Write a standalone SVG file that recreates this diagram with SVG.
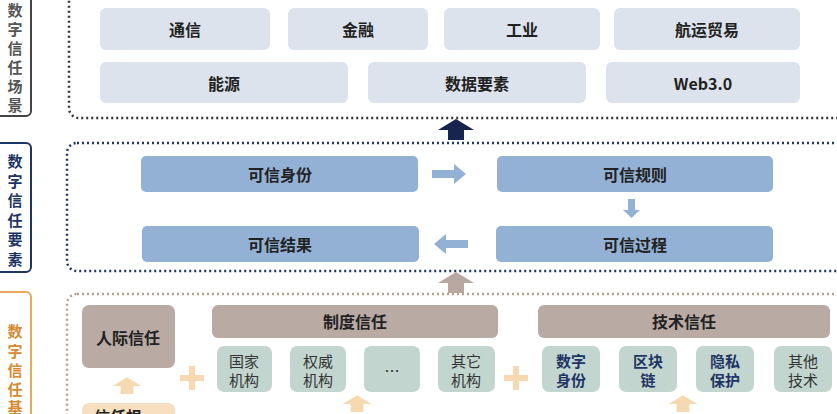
<svg xmlns="http://www.w3.org/2000/svg" width="837" height="414" viewBox="0 0 837 414">
<style>
text{font-family:"Noto Sans CJK SC","Liberation Sans",sans-serif;text-anchor:middle;dominant-baseline:central}
.b{font-weight:bold;font-size:16px;fill:#222}
.s{font-size:15px;fill:#333}
.sb{font-size:15px;font-weight:bold;fill:#1f3566}
.side{font-size:15px;font-weight:bold}
.t1{fill:#dde3ec}
.t2{fill:#93b1d5}
.br{fill:#b9aaa4}
.tl{fill:#c2d6cf}
.fr{fill:none;stroke-width:2.5;stroke-dasharray:2 3}
</style>
<defs>
<path id="up" d="M-18 0 L0 -11 L18 0 L8 0 L8 10 L-8 10 L-8 0Z"/>
</defs>
<rect width="837" height="414" fill="#fff"/>
<g id="side1"><rect x="-10" y="-10" width="41" height="126" rx="5" fill="none" stroke="#444" stroke-width="2"/>
<text class="side" fill="#555"><tspan x="15" y="9">数</tspan><tspan x="15" y="28">字</tspan><tspan x="15" y="47">信</tspan><tspan x="15" y="66">任</tspan><tspan x="15" y="85">场</tspan><tspan x="15" y="104">景</tspan></text></g>
<g id="side2"><rect x="-10" y="143" width="41" height="129" rx="5" fill="none" stroke="#1f3566" stroke-width="2"/>
<text class="side" fill="#1f3566"><tspan x="15" y="160">数</tspan><tspan x="15" y="180">字</tspan><tspan x="15" y="199">信</tspan><tspan x="15" y="219">任</tspan><tspan x="15" y="238">要</tspan><tspan x="15" y="258">素</tspan></text></g>
<g id="side3"><rect x="-10" y="292" width="41" height="140" rx="5" fill="none" stroke="#e8a95a" stroke-width="2"/>
<text class="side" fill="#d78a30"><tspan x="15" y="330">数</tspan><tspan x="15" y="350">字</tspan><tspan x="15" y="369">信</tspan><tspan x="15" y="388">任</tspan><tspan x="15" y="406">基</tspan></text></g>
<g id="frames">
<rect class="fr" x="69" y="-20" width="790" height="138" rx="10" stroke="#333"/>
<rect class="fr" x="67" y="143" width="790" height="128" rx="10" stroke="#1f3566"/>
<rect class="fr" x="67" y="294" width="790" height="140" rx="10" stroke="#b9a08e"/>
</g>
<g id="scen">
<g id="n1"><rect class="t1" x="100" y="8" width="170" height="42" rx="6"/><text class="b" x="185" y="29">通信</text></g>
<g id="n2"><rect class="t1" x="288" y="8" width="140" height="42" rx="6"/><text class="b" x="358" y="29">金融</text></g>
<g id="n3"><rect class="t1" x="444" y="8" width="156" height="42" rx="6"/><text class="b" x="522" y="29">工业</text></g>
<g id="n4"><rect class="t1" x="614" y="8" width="186" height="42" rx="6"/><text class="b" x="707" y="29">航运贸易</text></g>
<g id="n5"><rect class="t1" x="100" y="62" width="248" height="41" rx="6"/><text class="b" x="224" y="83">能源</text></g>
<g id="n6"><rect class="t1" x="368" y="62" width="218" height="41" rx="6"/><text class="b" x="477" y="83">数据要素</text></g>
<g id="n7"><rect class="t1" x="606" y="62" width="194" height="41" rx="6"/><text class="b" x="703" y="83" font-family="Liberation Sans,sans-serif">Web3.0</text></g>
</g>
<g id="elem">
<g id="e1"><rect class="t2" x="141" y="156" width="277" height="36" rx="5"/><text class="b" x="280" y="174">可信身份</text></g>
<g id="e2"><rect class="t2" x="497" y="156" width="276" height="36" rx="5"/><text class="b" x="635" y="174">可信规则</text></g>
<g id="e3"><rect class="t2" x="142" y="226" width="277" height="36" rx="5"/><text class="b" x="280" y="244">可信结果</text></g>
<g id="e4"><rect class="t2" x="496" y="226" width="277" height="36" rx="5"/><text class="b" x="635" y="244">可信过程</text></g>
</g>
<g id="base">
<g id="b1"><rect class="br" x="82" y="305" width="93" height="63" rx="7"/><text class="b" x="128" y="337">人际信任</text></g>
<g id="b2"><rect class="br" x="212" y="305" width="286" height="33" rx="6"/><text class="b" x="355" y="321">制度信任</text></g>
<g id="b3"><rect class="br" x="538" y="305" width="292" height="33" rx="6"/><text class="b" x="684" y="321">技术信任</text></g>
<g id="c1"><rect class="tl" x="217" y="346" width="55" height="46" rx="7"/><text class="s"><tspan x="244" y="360">国家</tspan><tspan x="244" y="379">机构</tspan></text></g>
<g id="c2"><rect class="tl" x="290" y="346" width="56" height="46" rx="7"/><text class="s"><tspan x="318" y="360">权威</tspan><tspan x="318" y="379">机构</tspan></text></g>
<g id="c3"><rect class="tl" x="364" y="346" width="56" height="46" rx="7"/><text class="s" x="392" y="370" font-size="11">…</text></g>
<g id="c4"><rect class="tl" x="438" y="346" width="57" height="46" rx="7"/><text class="s"><tspan x="466" y="360">其它</tspan><tspan x="466" y="379">机构</tspan></text></g>
<g id="c5"><rect class="tl" x="542" y="346" width="58" height="46" rx="7"/><text class="sb"><tspan x="571" y="360">数字</tspan><tspan x="571" y="379">身份</tspan></text></g>
<g id="c6"><rect class="tl" x="619" y="346" width="58" height="46" rx="7"/><text class="sb"><tspan x="648" y="360">区块</tspan><tspan x="648" y="379">链</tspan></text></g>
<g id="c7"><rect class="tl" x="696" y="346" width="58" height="46" rx="7"/><text class="sb"><tspan x="725" y="360">隐私</tspan><tspan x="725" y="379">保护</tspan></text></g>
<g id="c8"><rect class="tl" x="774" y="346" width="58" height="46" rx="7"/><text class="s"><tspan x="803" y="360">其他</tspan><tspan x="803" y="379">技术</tspan></text></g>
<g id="b4"><rect fill="#f7dfbf" x="82" y="403" width="93" height="40" rx="7"/><text class="b" x="118" y="416">信任根</text></g>
</g>
<g id="connectors">
<use href="#up" transform="translate(456,130)" fill="#17244d"/>
<use href="#up" transform="translate(456,283)" fill="#b9a8a2"/>
<use href="#up" transform="translate(127,386) scale(0.8)" fill="#f6d9b0"/>
<use href="#up" transform="translate(357,404) scale(0.8)" fill="#f6d9b0"/>
<use href="#up" transform="translate(683,404) scale(0.8)" fill="#f6d9b0"/>
<path d="M432 170 h22 v-6 l12 10 -12 10 v-6 h-22z" fill="#93b1d5"/>
<path d="M468 240 h-22 v-6 l-12 10 12 10 v-6 h22z" fill="#93b1d5"/>
<path d="M628 199 h7 v11 h5 l-8.5 8 -8.5 -8 h5z" fill="#93b1d5"/>
<path d="M180 375 h24 v6 h-24z M189 366 h6 v24 h-6z" fill="#f6d9b0"/>
<path d="M504 375 h24 v6 h-24z M513 366 h6 v24 h-6z" fill="#f6d9b0"/>
</g>
</svg>
